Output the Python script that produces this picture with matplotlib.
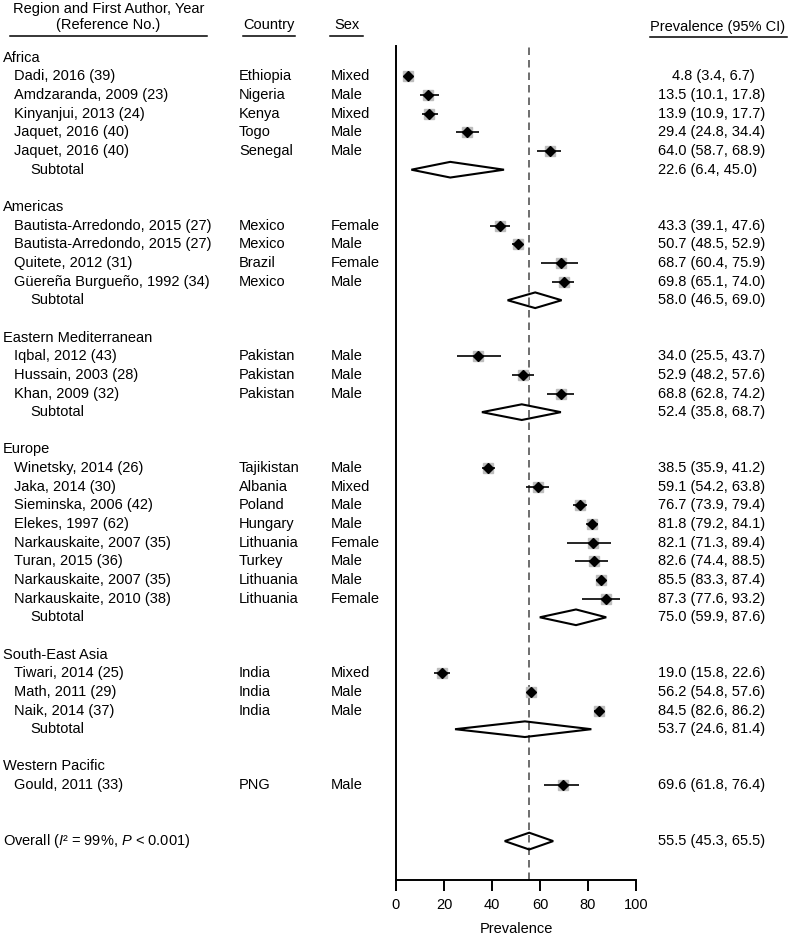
"""Forest plot of prevalence by WHO region (recreated figure)."""

import matplotlib.pyplot as plt
from matplotlib import transforms
from matplotlib.lines import Line2D
from matplotlib.patches import Polygon

plt.rcParams["font.family"] = ["Liberation Sans", "DejaVu Sans"]
plt.rcParams["font.size"] = 10.5
plt.rcParams["mathtext.fontset"] = "custom"
plt.rcParams["mathtext.rm"] = "Liberation Sans"
plt.rcParams["mathtext.it"] = "Liberation Sans:italic"

# ---- data -------------------------------------------------------------
region_names = ["Africa", "Americas", "Eastern Mediterranean", "Europe",
                "South-East Asia", "Western Pacific"]

study_region = [0, 0, 0, 0, 0,
                1, 1, 1, 1,
                2, 2, 2,
                3, 3, 3, 3, 3, 3, 3, 3,
                4, 4, 4,
                5]
study_label = ["Dadi, 2016 (39)", "Amdzaranda, 2009 (23)", "Kinyanjui, 2013 (24)",
               "Jaquet, 2016 (40)", "Jaquet, 2016 (40)",
               "Bautista-Arredondo, 2015 (27)", "Bautista-Arredondo, 2015 (27)",
               "Quitete, 2012 (31)", "Güereña Burgueño, 1992 (34)",
               "Iqbal, 2012 (43)", "Hussain, 2003 (28)", "Khan, 2009 (32)",
               "Winetsky, 2014 (26)", "Jaka, 2014 (30)", "Sieminska, 2006 (42)",
               "Elekes, 1997 (62)", "Narkauskaite, 2007 (35)", "Turan, 2015 (36)",
               "Narkauskaite, 2007 (35)", "Narkauskaite, 2010 (38)",
               "Tiwari, 2014 (25)", "Math, 2011 (29)", "Naik, 2014 (37)",
               "Gould, 2011 (33)"]
study_country = ["Ethiopia", "Nigeria", "Kenya", "Togo", "Senegal",
                 "Mexico", "Mexico", "Brazil", "Mexico",
                 "Pakistan", "Pakistan", "Pakistan",
                 "Tajikistan", "Albania", "Poland", "Hungary", "Lithuania",
                 "Turkey", "Lithuania", "Lithuania",
                 "India", "India", "India",
                 "PNG"]
study_sex = ["Mixed", "Male", "Mixed", "Male", "Male",
             "Female", "Male", "Female", "Male",
             "Male", "Male", "Male",
             "Male", "Mixed", "Male", "Male", "Female", "Male", "Male", "Female",
             "Mixed", "Male", "Male",
             "Male"]
study_est = [4.8, 13.5, 13.9, 29.4, 64.0,
             43.3, 50.7, 68.7, 69.8,
             34.0, 52.9, 68.8,
             38.5, 59.1, 76.7, 81.8, 82.1, 82.6, 85.5, 87.3,
             19.0, 56.2, 84.5,
             69.6]
study_lo = [3.4, 10.1, 10.9, 24.8, 58.7,
            39.1, 48.5, 60.4, 65.1,
            25.5, 48.2, 62.8,
            35.9, 54.2, 73.9, 79.2, 71.3, 74.4, 83.3, 77.6,
            15.8, 54.8, 82.6,
            61.8]
study_hi = [6.7, 17.8, 17.7, 34.4, 68.9,
            47.6, 52.9, 75.9, 74.0,
            43.7, 57.6, 74.2,
            41.2, 63.8, 79.4, 84.1, 89.4, 88.5, 87.4, 93.2,
            22.6, 57.6, 86.2,
            76.4]

subtotal_est = [22.6, 58.0, 52.4, 75.0, 53.7, None]
subtotal_lo = [6.4, 46.5, 35.8, 59.9, 24.6, None]
subtotal_hi = [45.0, 69.0, 68.7, 87.6, 81.4, None]

overall_est, overall_lo, overall_hi = 55.5, 45.3, 65.5

# ---- layout -----------------------------------------------------------
W, H = 788, 935
fig = plt.figure(figsize=(W / 100, H / 100), dpi=100)

ax_left, ax_right = 396, 636          # pixel x of 0 and 100
ax_top, ax_bottom = 46, 879.5         # pixel y of plot top / x axis
row0, row_h = 57.8, 18.65             # pixel y of first row, row spacing

ax = fig.add_axes([ax_left / W, 1 - ax_bottom / H,
                   (ax_right - ax_left) / W, (ax_bottom - ax_top) / H])
ax.set_xlim(0, 100)
ax.set_ylim((ax_bottom - row0) / row_h, (ax_top - row0) / row_h)

# row index for every line of the table
header_row, study_row, subtotal_row = [], [None] * len(study_est), []
row = 0
for r in range(len(region_names)):
    header_row.append(row)
    row += 1
    for i, reg in enumerate(study_region):
        if reg == r:
            study_row[i] = row
            row += 1
    subtotal_row.append(row)
    row += 2
overall_row = row

tr = transforms.blended_transform_factory(fig.transFigure, ax.transData)
X_REGION, X_STUDY, X_SUB = 3 / W, 14 / W, 30 / W
X_COUNTRY, X_SEX, X_PREV = 239 / W, 331 / W, 658 / W


def fmt(e, lo, hi):
    return f"{e:.1f} ({lo:.1f}, {hi:.1f})"


def diamond(est, lo, hi, y, h=0.42):
    ax.add_patch(Polygon([(lo, y), (est, y - h), (hi, y), (est, y + h)],
                         closed=True, facecolor="none", edgecolor="black",
                         linewidth=1.5, zorder=4))


# reference line at overall estimate
ax.axvline(overall_est, color="#555555", linewidth=1.2,
           linestyle=(0, (4.5, 3)), zorder=2)

for r, name in enumerate(region_names):
    ax.text(X_REGION, header_row[r], name, transform=tr, ha="left", va="center")
    if subtotal_est[r] is not None:
        y = subtotal_row[r]
        ax.text(X_SUB, y, "Subtotal", transform=tr, ha="left", va="center")
        diamond(subtotal_est[r], subtotal_lo[r], subtotal_hi[r], y)
        ax.text(X_PREV, y, fmt(subtotal_est[r], subtotal_lo[r], subtotal_hi[r]),
                transform=tr, ha="left", va="center")

for i in range(len(study_est)):
    y = study_row[i]
    ax.text(X_STUDY, y, study_label[i], transform=tr, ha="left", va="center")
    ax.text(X_COUNTRY, y, study_country[i], transform=tr, ha="left", va="center")
    ax.text(X_SEX, y, study_sex[i], transform=tr, ha="left", va="center")
    xp = X_PREV + (14 / W if study_est[i] < 10 else 0)
    ax.text(xp, y, fmt(study_est[i], study_lo[i], study_hi[i]),
            transform=tr, ha="left", va="center")

ax.plot(study_est, study_row, linestyle="none", marker="s", markersize=7.2,
        color="#bdbdbd", zorder=3)
ax.hlines(study_row, study_lo, study_hi, color="black", linewidth=1.2, zorder=4)
ax.plot(study_est, study_row, linestyle="none", marker="D", markersize=5.4,
        color="black", zorder=5)

# overall
ax.text(X_REGION, overall_row, "Overall ($I$² = 99%, $P$ < 0.001)",
        transform=tr, ha="left", va="center")
diamond(overall_est, overall_lo, overall_hi, overall_row, h=0.45)
ax.text(X_PREV, overall_row, fmt(overall_est, overall_lo, overall_hi),
        transform=tr, ha="left", va="center")

# axes styling
for side in ("top", "right"):
    ax.spines[side].set_visible(False)
for side in ("left", "bottom"):
    ax.spines[side].set_linewidth(1.4)
ax.set_yticks([])
ax.set_xticks([0, 20, 40, 60, 80, 100])
ax.tick_params(axis="x", direction="out", length=8, width=1.4, pad=5.5,
               labelsize=10.5)
ax.set_xlabel("Prevalence", fontsize=10.5, labelpad=7)

# column headers
def fig_text(x, y, s):
    fig.text(x / W, 1 - y / H, s, ha="center", va="center")


def underline(x0, x1, y):
    fig.add_artist(Line2D([x0 / W, x1 / W], [1 - y / H, 1 - y / H],
                          transform=fig.transFigure, color="black",
                          linewidth=1.1))


fig_text(109, 8.5, "Region and First Author, Year")
fig_text(108, 25, "(Reference No.)")
underline(10, 207, 35.5)
fig_text(269, 25, "Country")
underline(243, 295, 35.5)
fig_text(347, 25, "Sex")
underline(330, 363, 35.5)
fig_text(718, 27, "Prevalence (95% CI)")
underline(650, 787, 37)

fig.savefig("out.png", dpi=100)
